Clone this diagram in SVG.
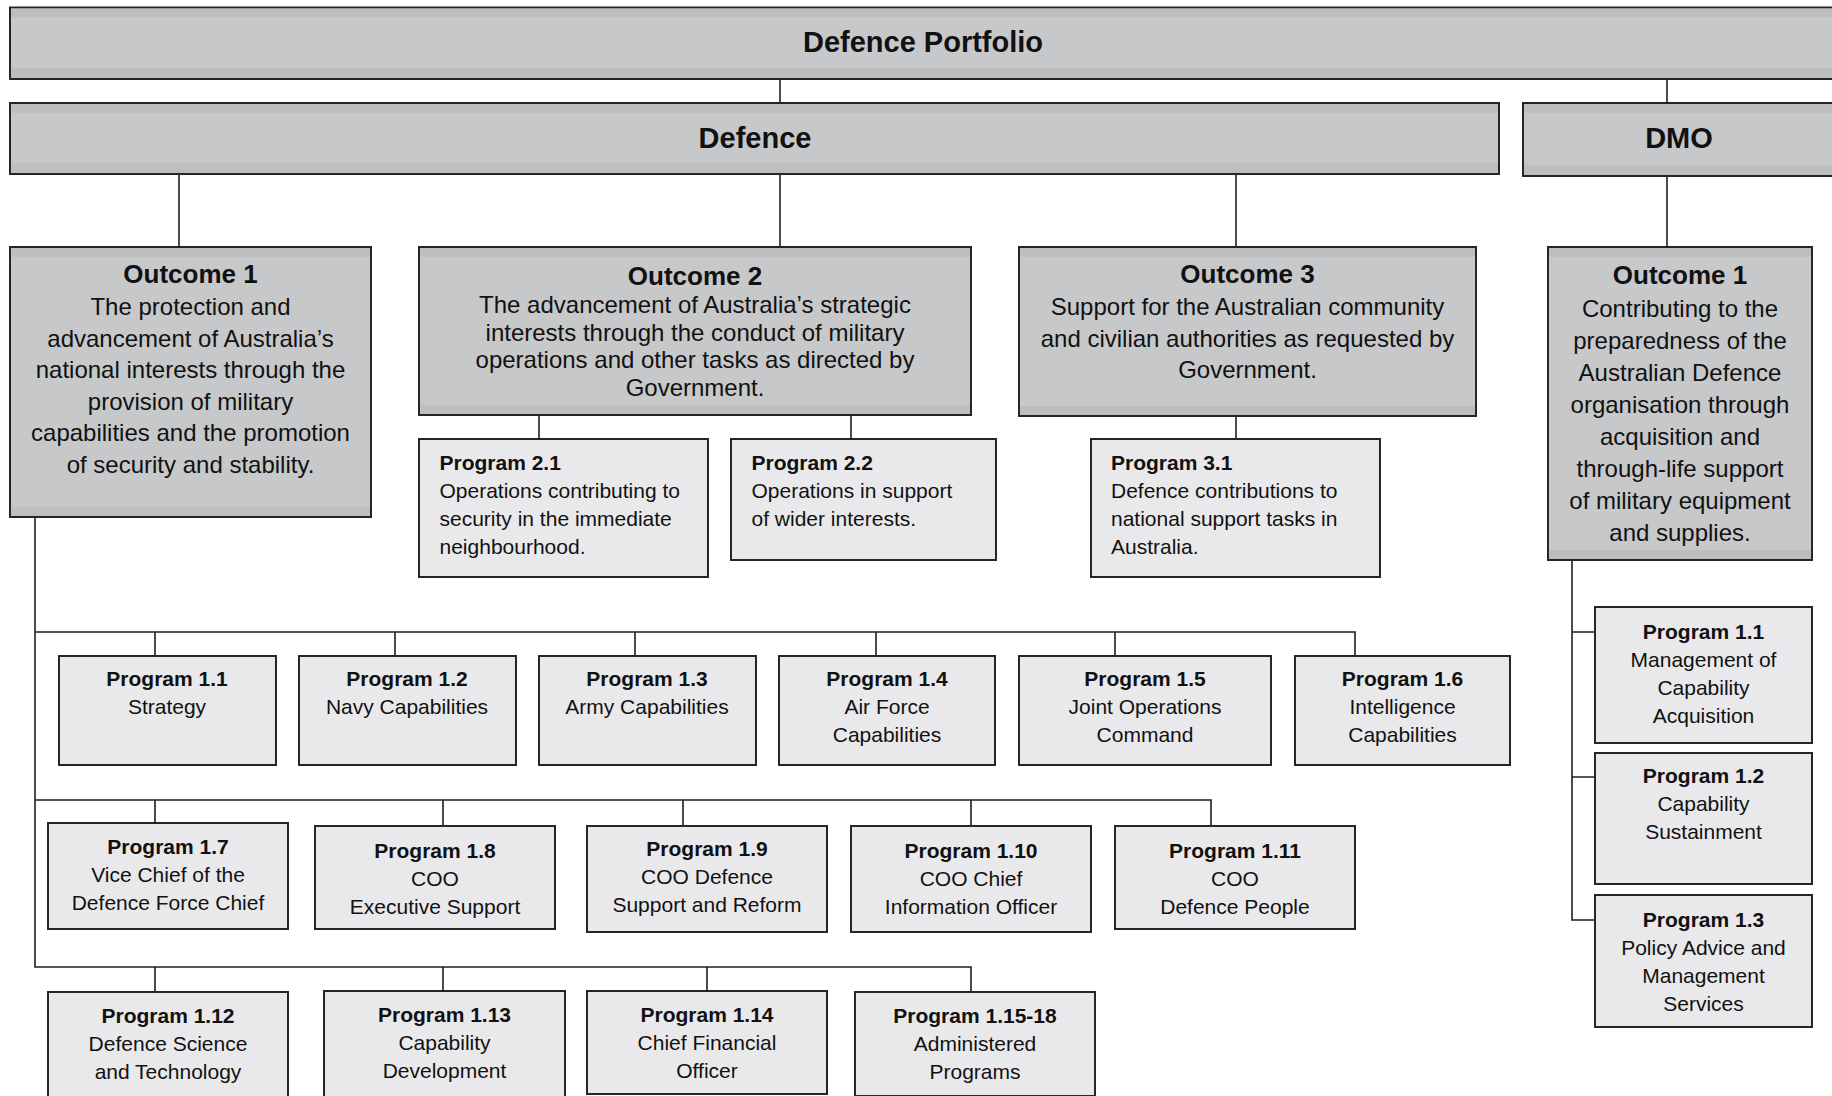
<svg xmlns="http://www.w3.org/2000/svg" width="1832" height="1096" viewBox="0 0 1832 1096">
<style>
.dk{fill:#c7c8ca;stroke:#262626;stroke-width:2}
.bd{fill:#bdbec0}
.lt{fill:#e9e9eb;stroke:#262626;stroke-width:2}
text{font-family:"Liberation Sans",Arial,Helvetica,sans-serif;fill:#111}
.h0{font-size:29px;font-weight:bold;text-anchor:middle}
.ot{font-size:26px;font-weight:bold;text-anchor:middle}
.ob{font-size:24px;text-anchor:middle}
.pc{font-size:21px;text-anchor:middle}
.pl{font-size:21px}
.b{font-weight:bold}
.cn path{fill:none;stroke:#1e1e1e;stroke-width:1.6}
</style>
<rect width="1832" height="1096" fill="#ffffff"/>
<g class="cn" id="connectors">
<path d="M780 79V103"/>
<path d="M1667 79V103"/>
<path d="M179 174V247"/>
<path d="M780 174V247"/>
<path d="M1236 174V247"/>
<path d="M1667 176V247"/>
<path d="M539 415V439"/>
<path d="M851 415V439"/>
<path d="M1236 416V439"/>
<path d="M35 517V967H971V992"/>
<path d="M35 632H1355V656"/>
<path d="M155 632V656M395 632V656M635 632V656M876 632V656M1115 632V656"/>
<path d="M35 800H1211V826"/>
<path d="M155 800V823M443 800V826M683 800V826M971 800V826"/>
<path d="M155 967V992M443 967V991M707 967V991"/>
<path d="M1572 560V920H1595"/>
<path d="M1572 632H1595M1572 777H1595"/>
</g>
<g id="portfolio">
<rect class="dk" x="10" y="7.5" width="1830" height="71.5"/>
<rect class="bd" x="11" y="8.5" width="1828" height="9"/>
<rect class="bd" x="11" y="68" width="1828" height="10"/>
<text class="h0" x="923" y="51.5">Defence Portfolio</text>
</g>
<g id="defence">
<rect class="dk" x="10" y="103" width="1489" height="71"/>
<rect class="bd" x="11" y="104" width="1487" height="9"/>
<rect class="bd" x="11" y="163" width="1487" height="10"/>
<text class="h0" x="755" y="148">Defence</text>
</g>
<g id="dmo">
<rect class="dk" x="1523" y="103" width="320" height="73"/>
<rect class="bd" x="1524" y="104" width="318" height="9"/>
<rect class="bd" x="1524" y="165" width="318" height="10"/>
<text class="h0" x="1679" y="148">DMO</text>
</g>
<g id="outcome1">
<rect class="dk" x="10" y="247" width="361" height="270"/>
<rect class="bd" x="11" y="248" width="359" height="9"/>
<rect class="bd" x="11" y="507" width="359" height="9"/>
<text class="ot" x="190.5" y="283">Outcome 1</text>
<text class="ob" x="190.5" y="315">The protection and</text>
<text class="ob" x="190.5" y="346.5">advancement of Australia’s</text>
<text class="ob" x="190.5" y="378">national interests through the</text>
<text class="ob" x="190.5" y="409.5">provision of military</text>
<text class="ob" x="190.5" y="441">capabilities and the promotion</text>
<text class="ob" x="190.5" y="472.5">of security and stability.</text>
</g>
<g id="outcome2">
<rect class="dk" x="419" y="247" width="552" height="168"/>
<rect class="bd" x="420" y="248" width="550" height="9"/>
<rect class="bd" x="420" y="405" width="550" height="9"/>
<text class="ot" x="695" y="285">Outcome 2</text>
<text class="ob" x="695" y="313">The advancement of Australia’s strategic</text>
<text class="ob" x="695" y="340.5">interests through the conduct of military</text>
<text class="ob" x="695" y="368">operations and other tasks as directed by</text>
<text class="ob" x="695" y="395.5">Government.</text>
</g>
<g id="outcome3">
<rect class="dk" x="1019" y="247" width="457" height="169"/>
<rect class="bd" x="1020" y="248" width="455" height="9"/>
<rect class="bd" x="1020" y="406" width="455" height="9"/>
<text class="ot" x="1247.5" y="283">Outcome 3</text>
<text class="ob" x="1247.5" y="315">Support for the Australian community</text>
<text class="ob" x="1247.5" y="346.5">and civilian authorities as requested by</text>
<text class="ob" x="1247.5" y="378">Government.</text>
</g>
<g id="dmo-outcome1">
<rect class="dk" x="1548" y="247" width="264" height="313"/>
<rect class="bd" x="1549" y="248" width="262" height="9"/>
<rect class="bd" x="1549" y="550" width="262" height="9"/>
<text class="ot" x="1680" y="283.5">Outcome 1</text>
<text class="ob" x="1680" y="316.5">Contributing to the</text>
<text class="ob" x="1680" y="348.5">preparedness of the</text>
<text class="ob" x="1680" y="380.5">Australian Defence</text>
<text class="ob" x="1680" y="412.5">organisation through</text>
<text class="ob" x="1680" y="444.5">acquisition and</text>
<text class="ob" x="1680" y="476.5">through-life support</text>
<text class="ob" x="1680" y="508.5">of military equipment</text>
<text class="ob" x="1680" y="540.5">and supplies.</text>
</g>
<g id="program2-1">
<rect class="lt" x="419" y="439" width="289" height="138"/>
<text class="pl b" x="439.5" y="470">Program 2.1</text>
<text class="pl" x="439.5" y="498">Operations contributing to</text>
<text class="pl" x="439.5" y="526">security in the immediate</text>
<text class="pl" x="439.5" y="554">neighbourhood.</text>
</g>
<g id="program2-2">
<rect class="lt" x="731" y="439" width="265" height="121"/>
<text class="pl b" x="751.5" y="470">Program 2.2</text>
<text class="pl" x="751.5" y="498">Operations in support</text>
<text class="pl" x="751.5" y="526">of wider interests.</text>
</g>
<g id="program3-1">
<rect class="lt" x="1091" y="439" width="289" height="138"/>
<text class="pl b" x="1111" y="470">Program 3.1</text>
<text class="pl" x="1111" y="498">Defence contributions to</text>
<text class="pl" x="1111" y="526">national support tasks in</text>
<text class="pl" x="1111" y="554">Australia.</text>
</g>
<g id="program1-1">
<rect class="lt" x="59" y="656" width="217" height="109"/>
<text class="pc b" x="167" y="686">Program 1.1</text>
<text class="pc" x="167" y="714">Strategy</text>
</g>
<g id="program1-2">
<rect class="lt" x="299" y="656" width="217" height="109"/>
<text class="pc b" x="407" y="686">Program 1.2</text>
<text class="pc" x="407" y="714">Navy Capabilities</text>
</g>
<g id="program1-3">
<rect class="lt" x="539" y="656" width="217" height="109"/>
<text class="pc b" x="647" y="686">Program 1.3</text>
<text class="pc" x="647" y="714">Army Capabilities</text>
</g>
<g id="program1-4">
<rect class="lt" x="779" y="656" width="216" height="109"/>
<text class="pc b" x="887" y="686">Program 1.4</text>
<text class="pc" x="887" y="714">Air Force</text>
<text class="pc" x="887" y="742">Capabilities</text>
</g>
<g id="program1-5">
<rect class="lt" x="1019" y="656" width="252" height="109"/>
<text class="pc b" x="1145" y="686">Program 1.5</text>
<text class="pc" x="1145" y="714">Joint Operations</text>
<text class="pc" x="1145" y="742">Command</text>
</g>
<g id="program1-6">
<rect class="lt" x="1295" y="656" width="215" height="109"/>
<text class="pc b" x="1402.5" y="686">Program 1.6</text>
<text class="pc" x="1402.5" y="714">Intelligence</text>
<text class="pc" x="1402.5" y="742">Capabilities</text>
</g>
<g id="program1-7">
<rect class="lt" x="48" y="823" width="240" height="106"/>
<text class="pc b" x="168" y="854">Program 1.7</text>
<text class="pc" x="168" y="882">Vice Chief of the</text>
<text class="pc" x="168" y="910">Defence Force Chief</text>
</g>
<g id="program1-8">
<rect class="lt" x="315" y="826" width="240" height="103"/>
<text class="pc b" x="435" y="857.5">Program 1.8</text>
<text class="pc" x="435" y="885.5">COO</text>
<text class="pc" x="435" y="913.5">Executive Support</text>
</g>
<g id="program1-9">
<rect class="lt" x="587" y="826" width="240" height="106"/>
<text class="pc b" x="707" y="856">Program 1.9</text>
<text class="pc" x="707" y="884">COO Defence</text>
<text class="pc" x="707" y="912">Support and Reform</text>
</g>
<g id="program1-10">
<rect class="lt" x="851" y="826" width="240" height="106"/>
<text class="pc b" x="971" y="857.5">Program 1.10</text>
<text class="pc" x="971" y="885.5">COO Chief</text>
<text class="pc" x="971" y="913.5">Information Officer</text>
</g>
<g id="program1-11">
<rect class="lt" x="1115" y="826" width="240" height="103"/>
<text class="pc b" x="1235" y="857.5">Program 1.11</text>
<text class="pc" x="1235" y="885.5">COO</text>
<text class="pc" x="1235" y="913.5">Defence People</text>
</g>
<g id="program1-12">
<rect class="lt" x="48" y="992" width="240" height="110"/>
<text class="pc b" x="168" y="1023">Program 1.12</text>
<text class="pc" x="168" y="1051">Defence Science</text>
<text class="pc" x="168" y="1079">and Technology</text>
</g>
<g id="program1-13">
<rect class="lt" x="324" y="991" width="241" height="111"/>
<text class="pc b" x="444.5" y="1022">Program 1.13</text>
<text class="pc" x="444.5" y="1050">Capability</text>
<text class="pc" x="444.5" y="1078">Development</text>
</g>
<g id="program1-14">
<rect class="lt" x="587" y="991" width="240" height="103"/>
<text class="pc b" x="707" y="1022">Program 1.14</text>
<text class="pc" x="707" y="1050">Chief Financial</text>
<text class="pc" x="707" y="1078">Officer</text>
</g>
<g id="program1-15-18">
<rect class="lt" x="855" y="992" width="240" height="104"/>
<text class="pc b" x="975" y="1023">Program 1.15-18</text>
<text class="pc" x="975" y="1051">Administered</text>
<text class="pc" x="975" y="1079">Programs</text>
</g>
<g id="dmo-program1-1">
<rect class="lt" x="1595" y="607" width="217" height="136"/>
<text class="pc b" x="1703.5" y="639">Program 1.1</text>
<text class="pc" x="1703.5" y="667">Management of</text>
<text class="pc" x="1703.5" y="695">Capability</text>
<text class="pc" x="1703.5" y="723">Acquisition</text>
</g>
<g id="dmo-program1-2">
<rect class="lt" x="1595" y="753" width="217" height="131"/>
<text class="pc b" x="1703.5" y="782.5">Program 1.2</text>
<text class="pc" x="1703.5" y="810.5">Capability</text>
<text class="pc" x="1703.5" y="838.5">Sustainment</text>
</g>
<g id="dmo-program1-3">
<rect class="lt" x="1595" y="895" width="217" height="132"/>
<text class="pc b" x="1703.5" y="926.5">Program 1.3</text>
<text class="pc" x="1703.5" y="954.5">Policy Advice and</text>
<text class="pc" x="1703.5" y="982.5">Management</text>
<text class="pc" x="1703.5" y="1010.5">Services</text>
</g>
</svg>
